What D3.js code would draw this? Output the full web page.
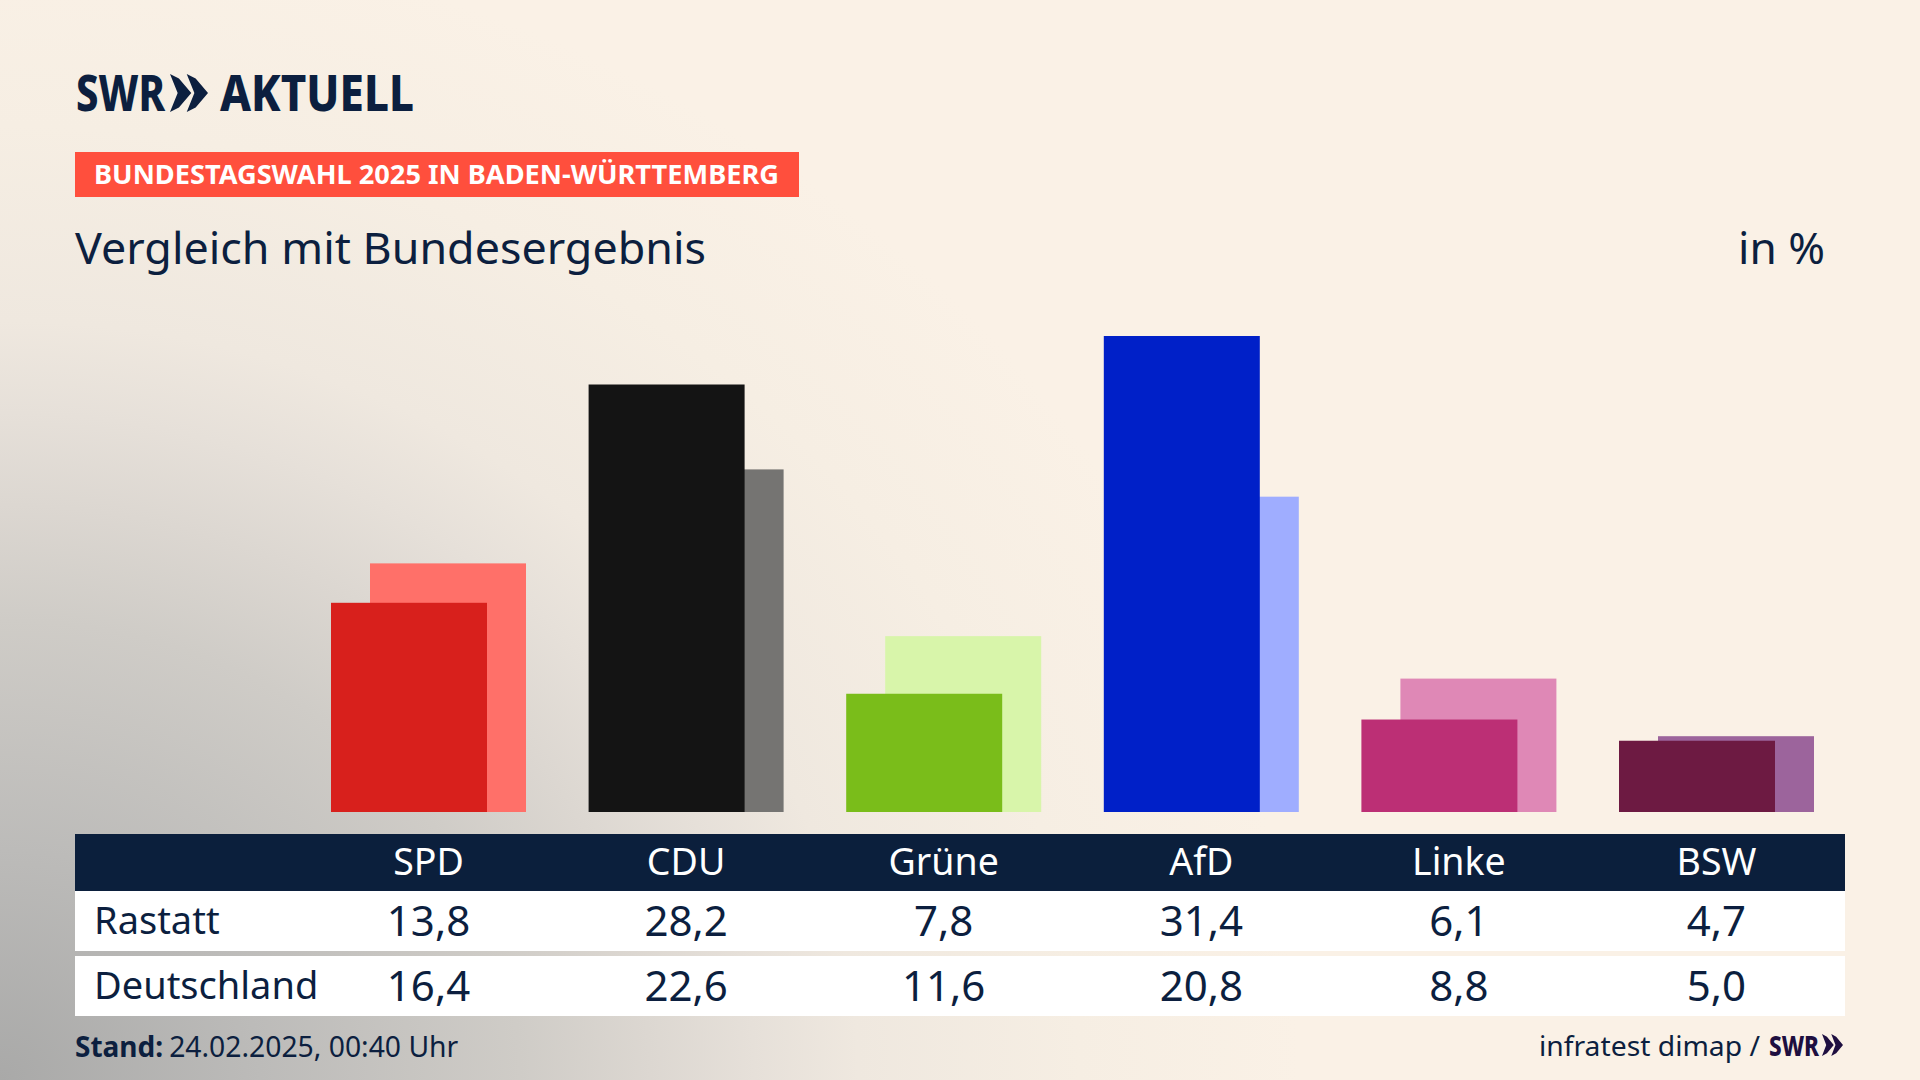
<!DOCTYPE html>
<html><head><meta charset="utf-8">
<script src="https://cdn.jsdelivr.net/npm/d3@7/dist/d3.min.js"></script>
<style>html,body{margin:0;padding:0;background:#faf1e6;overflow:hidden}svg{display:block}text{font-family:"Noto Sans",sans-serif}</style>
</head><body><svg id="c" width="1920" height="1080"></svg>
<script>
const parties = ["SPD","CDU","Grüne","AfD","Linke","BSW"];
const rastatt = [13.8,28.2,7.8,31.4,6.1,4.7];
const deutschland = [16.4,22.6,11.6,20.8,8.8,5.0];
const colorsLocal = ["#d8201c","#141414","#7abd1a","#0020c8","#bc2f75","#6d1a42"];
const colorsNational = ["#ff7069","#757472","#d8f5aa","#9fadff","#df88b6","#9c649c"];
const rowLabels = ["Rastatt","Deutschland"];
const fmt = v => v.toFixed(1).replace(".",",");
const ink = "#0c1f3f";

const svg = d3.select("#c");
const defs = svg.append("defs");
const grad = defs.append("radialGradient").attr("id","bg").attr("gradientUnits","userSpaceOnUse")
  .attr("cx",0).attr("cy",0).attr("r",1)
  .attr("gradientTransform","translate(0 1080) scale(1300 1150)");
[[0,"#a9a9a8"],[0.2,"#bcbbb9"],[0.4,"#cfccc7"],[0.5,"#dcd7d1"],[0.58,"#e6e0d9"],[0.66,"#efe8df"],[0.83,"#f6eee3"],[1,"#faf1e6"]]
  .forEach(([o,c])=>grad.append("stop").attr("offset",o).attr("stop-color",c));
svg.append("rect").attr("width",1920).attr("height",1080).attr("fill","#faf1e6");
svg.append("rect").attr("width",1920).attr("height",1080).attr("fill","url(#bg)");

const x = d3.scalePoint().domain(parties).range([428.5,1716.5]);
const y = d3.scaleLinear().domain([0,31.4]).range([812,336]);
const barW = 156, off = 19.5;

const g = svg.append("g");
g.selectAll("rect.n").data(parties).join("rect").attr("class","n")
  .attr("x",p=>x(p)-barW/2+off).attr("width",barW)
  .attr("y",(p,i)=>y(deutschland[i])).attr("height",(p,i)=>y(0)-y(deutschland[i]))
  .attr("fill",(p,i)=>colorsNational[i]);
g.selectAll("rect.l").data(parties).join("rect").attr("class","l")
  .attr("x",p=>x(p)-barW/2-off).attr("width",barW)
  .attr("y",(p,i)=>y(rastatt[i])).attr("height",(p,i)=>y(0)-y(rastatt[i]))
  .attr("fill",(p,i)=>colorsLocal[i]);

function fit(t,x0,base,size,weight,fill,len){
  const s = svg.append("text").attr("x",x0).attr("y",base).attr("font-size",size)
    .attr("font-weight",weight).attr("fill",fill).text(t);
  if(len) s.attr("textLength",len).attr("lengthAdjust","spacingAndGlyphs");
  return s;
}
function chevrons(x0,yTop,h,w,fill){
  const cw = w*0.56, gap = w-cw;
  [0,gap].forEach(dx=>{
    const a=x0+dx;
    svg.append("polygon").attr("fill",fill).attr("points",[
      [a,yTop],[a+cw*0.42,yTop+h*0.12],[a+cw,yTop+h/2],[a+cw*0.42,yTop+h*0.88],[a,yTop+h],[a+cw*0.36,yTop+h/2]
    ].map(p=>p.join(",")).join(" "));
  });
}
// logo
fit("SWR",76,111,50,800,ink,89);
chevrons(170,74,38,38,ink);
fit("AKTUELL",220,111,50,800,ink,194);

// tag
svg.append("rect").attr("x",75).attr("y",152).attr("width",724).attr("height",45).attr("fill","#ff4f3d");
fit("BUNDESTAGSWAHL 2025 IN BADEN-WÜRTTEMBERG",94,184,26,700,"#fff",685);

// title
fit("Vergleich mit Bundesergebnis",75,264,44,400,ink,631);
fit("in %",1738,264,44,400,ink,87);

// table
svg.append("rect").attr("x",75).attr("y",834).attr("width",1770).attr("height",57).attr("fill","#0b1f3c");
svg.append("rect").attr("x",75).attr("y",891).attr("width",1770).attr("height",60).attr("fill","#fff");
svg.append("rect").attr("x",75).attr("y",956).attr("width",1770).attr("height",60).attr("fill","#fff");
svg.selectAll("text.h").data(parties).join("text").attr("class","h")
  .attr("x",p=>x(p)).attr("y",875).attr("text-anchor","middle").attr("font-size",37.5)
  .attr("fill","#fff").text(p=>p);
[[rastatt,936],[deutschland,1001]].forEach(([vals,base],k)=>{
  svg.selectAll("text.v"+k).data(vals).join("text").attr("class","v"+k)
    .attr("x",(v,i)=>x(parties[i])).attr("y",base).attr("text-anchor","middle")
    .attr("font-size",42).attr("fill",ink).text(fmt);
  fit(rowLabels[k],94,base-2,38,400,ink);
});

// footer
const st = svg.append("text").attr("x",75).attr("y",1057).attr("font-size",28).attr("fill",ink);
st.append("tspan").attr("font-weight",700).text("Stand:");
st.append("tspan").attr("dx",6).attr("font-size",28.3).text("24.02.2025, 00:40 Uhr");
fit("infratest dimap /",1539,1056,28,400,ink,221);
fit("SWR",1769,1056,28,800,"#1e0f40",50);
chevrons(1822,1034,22,21,"#1e0f40");
</script></body></html>
